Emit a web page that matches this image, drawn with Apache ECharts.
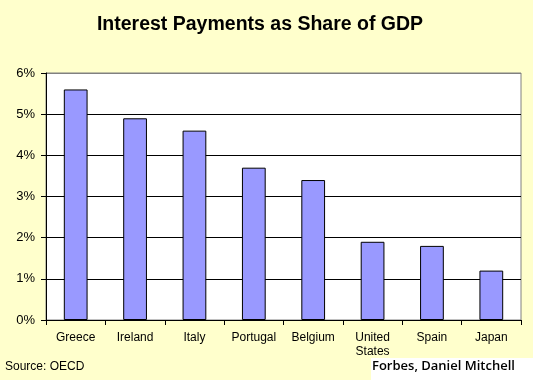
<!DOCTYPE html>
<html><head><meta charset="utf-8">
<script src="https://cdn.jsdelivr.net/npm/echarts@6/dist/echarts.min.js"></script>
<style>html,body{margin:0;padding:0;background:#FFFFCC;}#c{width:533px;height:380px;}</style>
</head><body><div id="c"></div>
<script>
const categories = ['Greece','Ireland','Italy','Portugal','Belgium','United\nStates','Spain','Japan'];
const values = [5.6, 4.9, 4.6, 3.7, 3.4, 1.9, 1.8, 1.2];
const yTicks = [0,1,2,3,4,5,6];
const titleText = 'Interest Payments as Share of GDP';
const sourceText = 'Source: OECD';
const creditText = 'Forbes, Daniel Mitchell';

const chart = echarts.init(document.getElementById('c'), null, {renderer:'canvas'});
chart.setOption({
  backgroundColor: '#FFFFCC',
  animation: false,
  grid: {left: 46, right: 12, top: 73, bottom: 60, show: true, backgroundColor: '#FFFFFF', borderColor: '#808080', borderWidth: 1},
  xAxis: {
    type: 'category', data: categories,
    axisLine: {lineStyle: {color: '#000', width: 1}},
    axisTick: {show: true, alignWithLabel: false, length: 5, lineStyle: {color: '#000'}},
    axisLabel: {color: '#000', fontFamily: 'Liberation Sans', fontSize: 12, margin: 11, lineHeight: 14}
  },
  yAxis: {
    type: 'value', min: 0, max: 6, interval: 1,
    axisLine: {show: true, lineStyle: {color: '#000'}},
    axisTick: {show: true, length: 5, lineStyle: {color: '#000'}},
    axisLabel: {color: '#000', fontFamily: 'Liberation Sans', fontSize: 13, margin: 11, formatter: v => v + '%'},
    splitLine: {show: true, lineStyle: {color: ['#000','#000','#000','#000','#000','#000','#808080'], width: 1}}
  },
  series: [{
    type: 'bar', data: values, barWidth: '40%',
    itemStyle: {color: '#9999FF', borderColor: '#000', borderWidth: 1}
  }],
  graphic: [
    {type: 'text', x: 260, y: 25, style: {text: titleText, font: 'bold 19.5px "Liberation Sans"', fill: '#000', align: 'center', verticalAlign: 'middle'}, z: 11},
    {type: 'rect', left: 371, top: 358, shape: {width: 162, height: 22}, style: {fill: '#FFFFFF'}, z: 10},
    {type: 'text', left: 5, top: 361, style: {text: sourceText, font: '12px "Liberation Sans"', fill: '#000'}, z: 11},
    {type: 'text', left: 372, top: 360, style: {text: creditText, font: '600 13px "Open Sans"', fill: '#000'}, z: 11}
  ]
});
</script></body></html>
